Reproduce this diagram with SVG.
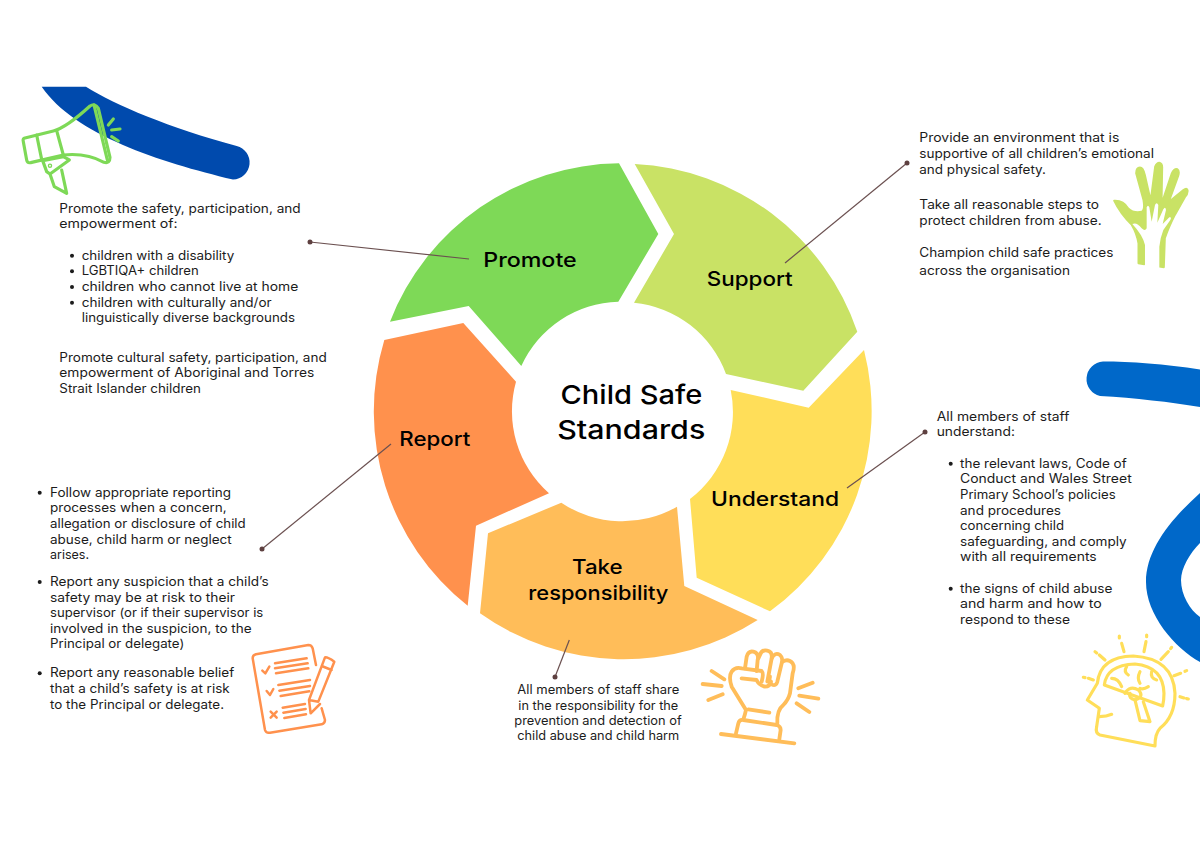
<svg xmlns="http://www.w3.org/2000/svg" width="1200" height="849" viewBox="0 0 1200 849">
<style>
text{font-family:"Inter","Liberation Sans",sans-serif;fill:#000}
.b{font-size:12.5px;fill:#1c1c1c}
.h{font-size:20px;font-weight:500}
.t{font-size:26px;font-weight:500}
.conn{stroke:#6b5050;stroke-width:1.2;fill:none}
.dot{fill:#5e4040}
.ico{fill:none;stroke-linecap:round;stroke-linejoin:round}
.bul{fill:#1c1c1c}
</style>
<rect width="1200" height="849" fill="#fff"/>
<g id="decor">
<path fill="#004aad" d="M41.7,86.7 L86,86.7 C115,105 170,128 236.7,146 A17,17 0 0 1 233,179.5 C160,162 75,135 41.7,86.7Z"/>
<path fill="#0068c9" d="M1200,369.5 C1165,364 1130,361.5 1103,361.5 A17.5,17.5 0 0 0 1100,396 C1135,398 1170,402 1200,407Z"/>
<path fill="#0068c9" d="M1200,493 C1170,520 1146,550 1146,582 C1146,615 1175,648 1200,662 L1200,617 C1190,610 1181,595 1181,580 C1181,568 1190,553 1200,543Z"/>
</g>
<g id="segment-promote">
<path fill="#7ed957" d="M619,163.3 L658.3,234 L618.3,301.7 A109.5,109.5 0 0 0 521.3,366 L468.7,306 L390,321.7 A248,248 0 0 1 619,163.3Z"/>
<text class="h" x="483.3" y="266.7" textLength="93.4" lengthAdjust="spacingAndGlyphs">Promote</text>
</g>
<g id="segment-support">
<path fill="#c9e265" d="M634.7,164 L674,234 L634,302.7 A109.5,109.5 0 0 1 726,374 L803.3,390.7 L857.3,331.7 A248,248 0 0 0 634.7,164Z"/>
<text class="h" x="706.7" y="285.7" textLength="86" lengthAdjust="spacingAndGlyphs">Support</text>
</g>
<g id="segment-understand">
<path fill="#ffde59" d="M864,350 A248,248 0 0 1 770,611.3 L696.7,577.7 L690,499 A109.5,109.5 0 0 0 730.7,390 L808.7,407.7Z"/>
<text class="h" x="711" y="505.7" textLength="128" lengthAdjust="spacingAndGlyphs">Understand</text>
</g>
<g id="segment-take">
<path fill="#ffbd59" d="M757.7,620 A248,248 0 0 1 480,613.3 L488,533.3 L561.3,502.7 A109.5,109.5 0 0 0 677,506.7 L684.3,586Z"/>
<text class="h" x="572" y="574" textLength="50.7" lengthAdjust="spacingAndGlyphs">Take</text>
<text class="h" x="528.3" y="600" textLength="140" lengthAdjust="spacingAndGlyphs">responsibility</text>
</g>
<g id="segment-report">
<path fill="#ff914d" d="M467.7,605.7 A248,248 0 0 1 384.3,340 L463.3,323 L516,381.7 A109.5,109.5 0 0 0 549,493.3 L476,525.7Z"/>
<text class="h" x="399.3" y="446" textLength="71" lengthAdjust="spacingAndGlyphs">Report</text>
</g>
<g id="center">
<text class="t" x="560.5" y="404.3" textLength="141.8" lengthAdjust="spacingAndGlyphs">Child Safe</text>
<text class="t" x="557.2" y="439" textLength="148.1" lengthAdjust="spacingAndGlyphs">Standards</text>
</g>
<g id="connectors">
<path class="conn" d="M310,242 L469,259"/><circle class="dot" cx="310" cy="242" r="2.5"/>
<path class="conn" d="M907,163 L785,263"/><circle class="dot" cx="907" cy="163" r="2.5"/>
<path class="conn" d="M925,432 L847,488"/><circle class="dot" cx="925" cy="432" r="2.5"/>
<path class="conn" d="M262,549 L391,444"/><circle class="dot" cx="262" cy="549" r="2.5"/>
<path class="conn" d="M555,677 L569.3,640"/><circle class="dot" cx="555" cy="677" r="2.5"/>
</g>
<g id="text-promote">
<text class="b" x="59.3" y="212.7" textLength="241.4" lengthAdjust="spacingAndGlyphs">Promote the safety, participation, and</text>
<text class="b" x="59.3" y="228.3" textLength="118.4" lengthAdjust="spacingAndGlyphs">empowerment of:</text>
<circle class="bul" cx="72" cy="255.7" r="2"/>
<circle class="bul" cx="72" cy="271.3" r="2"/>
<circle class="bul" cx="72" cy="287" r="2"/>
<circle class="bul" cx="72" cy="302.7" r="2"/>
<text class="b" x="81.7" y="259.7" textLength="152.6" lengthAdjust="spacingAndGlyphs">children with a disability</text>
<text class="b" x="81.7" y="275.3" textLength="117" lengthAdjust="spacingAndGlyphs">LGBTIQA+ children</text>
<text class="b" x="81.7" y="291" textLength="216.6" lengthAdjust="spacingAndGlyphs">children who cannot live at home</text>
<text class="b" x="81.7" y="306.7" textLength="190" lengthAdjust="spacingAndGlyphs">children with culturally and/or</text>
<text class="b" x="81.7" y="322.3" textLength="213.3" lengthAdjust="spacingAndGlyphs">linguistically diverse backgrounds</text>
<text class="b" x="59.3" y="361.7" textLength="267.4" lengthAdjust="spacingAndGlyphs">Promote cultural safety, participation, and</text>
<text class="b" x="59.3" y="377.3" textLength="255" lengthAdjust="spacingAndGlyphs">empowerment of Aboriginal and Torres</text>
<text class="b" x="59.3" y="393" textLength="141.7" lengthAdjust="spacingAndGlyphs">Strait Islander children</text>
</g>
<g id="text-report">
<circle class="bul" cx="39.7" cy="492.7" r="2"/>
<circle class="bul" cx="39.7" cy="582" r="2"/>
<circle class="bul" cx="39.7" cy="673.3" r="2"/>
<text class="b" x="50" y="496.7" textLength="181" lengthAdjust="spacingAndGlyphs">Follow appropriate reporting</text>
<text class="b" x="50" y="512.3" textLength="176.7" lengthAdjust="spacingAndGlyphs">processes when a concern,</text>
<text class="b" x="50" y="528" textLength="195.7" lengthAdjust="spacingAndGlyphs">allegation or disclosure of child</text>
<text class="b" x="50" y="543.7" textLength="181.7" lengthAdjust="spacingAndGlyphs">abuse, child harm or neglect</text>
<text class="b" x="50" y="559.3" textLength="39" lengthAdjust="spacingAndGlyphs">arises.</text>
<text class="b" x="50" y="586" textLength="218.7" lengthAdjust="spacingAndGlyphs">Report any suspicion that a child’s</text>
<text class="b" x="50" y="601.7" textLength="185" lengthAdjust="spacingAndGlyphs">safety may be at risk to their</text>
<text class="b" x="50" y="617.3" textLength="213.3" lengthAdjust="spacingAndGlyphs">supervisor (or if their supervisor is</text>
<text class="b" x="50" y="633" textLength="201.7" lengthAdjust="spacingAndGlyphs">involved in the suspicion, to the</text>
<text class="b" x="50" y="648.3" textLength="134.3" lengthAdjust="spacingAndGlyphs">Principal or delegate)</text>
<text class="b" x="50" y="677.3" textLength="184.3" lengthAdjust="spacingAndGlyphs">Report any reasonable belief</text>
<text class="b" x="50" y="693" textLength="179.7" lengthAdjust="spacingAndGlyphs">that a child’s safety is at risk</text>
<text class="b" x="50" y="708.7" textLength="174" lengthAdjust="spacingAndGlyphs">to the Principal or delegate.</text>
</g>
<g id="text-support">
<text class="b" x="919.3" y="142.3" textLength="200" lengthAdjust="spacingAndGlyphs">Provide an environment that is</text>
<text class="b" x="919.3" y="158" textLength="234.7" lengthAdjust="spacingAndGlyphs">supportive of all children’s emotional</text>
<text class="b" x="919.3" y="173.7" textLength="126.7" lengthAdjust="spacingAndGlyphs">and physical safety.</text>
<text class="b" x="919.3" y="209.3" textLength="179.7" lengthAdjust="spacingAndGlyphs">Take all reasonable steps to</text>
<text class="b" x="919.3" y="225" textLength="182.4" lengthAdjust="spacingAndGlyphs">protect children from abuse.</text>
<text class="b" x="919.3" y="256.7" textLength="194" lengthAdjust="spacingAndGlyphs">Champion child safe practices</text>
<text class="b" x="919.3" y="274.7" textLength="150.7" lengthAdjust="spacingAndGlyphs">across the organisation</text>
</g>
<g id="text-understand">
<text class="b" x="936.7" y="420.7" textLength="132.6" lengthAdjust="spacingAndGlyphs">All members of staff</text>
<text class="b" x="936.7" y="436.3" textLength="78.3" lengthAdjust="spacingAndGlyphs">understand:</text>
<circle class="bul" cx="950.7" cy="463.7" r="2"/>
<circle class="bul" cx="950.7" cy="588.7" r="2"/>
<text class="b" x="960" y="467.7" textLength="166.7" lengthAdjust="spacingAndGlyphs">the relevant laws, Code of</text>
<text class="b" x="960" y="483.3" textLength="171.7" lengthAdjust="spacingAndGlyphs">Conduct and Wales Street</text>
<text class="b" x="960" y="499" textLength="155.7" lengthAdjust="spacingAndGlyphs">Primary School’s policies</text>
<text class="b" x="960" y="514.7" textLength="101" lengthAdjust="spacingAndGlyphs">and procedures</text>
<text class="b" x="960" y="530.3" textLength="104" lengthAdjust="spacingAndGlyphs">concerning child</text>
<text class="b" x="960" y="546" textLength="166.7" lengthAdjust="spacingAndGlyphs">safeguarding, and comply</text>
<text class="b" x="960" y="561.3" textLength="136.7" lengthAdjust="spacingAndGlyphs">with all requirements</text>
<text class="b" x="960" y="592.7" textLength="152.3" lengthAdjust="spacingAndGlyphs">the signs of child abuse</text>
<text class="b" x="960" y="608.3" textLength="141.7" lengthAdjust="spacingAndGlyphs">and harm and how to</text>
<text class="b" x="960" y="624" textLength="110" lengthAdjust="spacingAndGlyphs">respond to these</text>
</g>
<g id="text-take">
<text class="b" x="517.3" y="694" textLength="162" lengthAdjust="spacingAndGlyphs">All members of staff share</text>
<text class="b" x="518.3" y="709.5" textLength="160" lengthAdjust="spacingAndGlyphs">in the responsibility for the</text>
<text class="b" x="514.3" y="724.8" textLength="167.4" lengthAdjust="spacingAndGlyphs">prevention and detection of</text>
<text class="b" x="517.3" y="740" textLength="162" lengthAdjust="spacingAndGlyphs">child abuse and child harm</text>
</g>
<g id="icon-megaphone" class="ico" stroke="#7ed957" stroke-width="9.5" transform="translate(0,70) scale(.3333)">
<path d="M72,205 L160,183 C190,175 235,140 270,108 Q285,98 295,115 L330,262 Q330,282 312,277 C285,262 240,250 190,255 L92,278 Q82,280 80,270 L70,215 Q68,207 72,205Z"/>
<path d="M110,195 L125,268 M170,182 L190,255 M282,105 L322,270"/>
<path d="M128,272 L190,260 L208,270 L150,312 L140,305Z M150,312 L163,350 L200,370 L185,300"/>
<path d="M325,165 L340,147 M335,180 L360,177 M335,200 L355,213"/>
<circle cx="150" cy="287" r="2"/>
</g>
<g id="icon-hand" transform="translate(1100,150) scale(.3333)">
<path fill="#c9e265" stroke="#c9e265" stroke-width="5" stroke-linejoin="round" d="M42,152 Q70,150 85,175 Q100,190 125,185 Q135,180 130,150 L108,70 Q108,52 120,52 Q130,52 135,75 L152,150 L165,50 Q170,38 178,38 Q188,40 187,55 L185,160 L215,70 Q222,55 232,57 Q240,62 235,78 L207,155 L250,120 Q260,112 263,120 Q265,130 255,142 L225,195 Q205,235 195,265 L192,352 L178,350 L178,285 L135,285 L133,343 L115,340 L115,280 Q110,250 95,225 Q60,190 42,152Z"/>
<path fill="#fff" d="M97,222 Q110,215 125,235 Q135,245 140,235 L140,172 Q144,162 148,172 L155,215 L165,165 Q170,155 175,165 L172,218 L190,178 Q196,168 198,180 L188,222 L208,202 Q216,200 211,210 L190,240 Q180,265 178,290 L178,360 L135,360 L135,285 Q128,255 97,222Z"/>
</g>
<g id="icon-checklist" class="ico" stroke="#ff914d" stroke-width="7.5" transform="translate(240,630) scale(.3333)">
<path d="M228,105 L218,55 Q215,45 205,45 L48,73 Q38,75 38,85 L75,300 Q78,310 90,308 L245,283 Q255,280 255,270 L245,235"/>
<path d="M255,82 Q262,80 283,95 L235,215 L207,210Z M207,210 L212,250 L240,222 M245,108 L275,120"/>
<path d="M105,100 L200,85 M105,115 L203,100 M108,130 L205,115 M115,165 L210,150 M118,182 L210,168 M122,198 L208,184 M128,233 L195,222 M130,248 L197,237 M133,264 L198,253"/>
<path d="M67,122 L76,130 L88,110 M80,183 L90,195 L100,177 M92,245 L110,263 M110,245 L92,263"/>
</g>
<g id="icon-fist" class="ico" stroke="#ffbd59" stroke-width="11.5" transform="translate(690,640) scale(.3333)">
<path d="M65,93 L103,118 M38,132 L95,138 M55,180 L98,163 M325,145 L368,128 M328,167 L385,176 M320,190 L358,216 M93,282 L313,310"/>
<path d="M138,280 L145,250 Q148,238 160,240 L260,255 Q272,258 272,270 L268,298"/>
<path d="M160,238 Q165,225 168,210 L125,140 Q115,110 125,95 Q135,80 155,85 L215,93 Q222,100 215,125"/>
<path d="M165,85 L170,50 Q175,32 190,35 Q208,40 203,60 L200,93 M203,60 L210,45 Q215,28 232,32 Q248,35 245,55 L232,125"/>
<path d="M245,55 Q255,35 270,45 Q280,55 275,70 L262,125 Q258,140 245,133 Q235,128 240,110"/>
<path d="M278,65 Q295,55 308,70 Q315,80 308,100 L300,160 Q295,180 280,195 Q260,210 262,250"/>
<path d="M155,115 L200,120 Q205,135 225,140 Q240,140 243,125 M175,208 L238,218"/>
</g>
<g id="icon-brain" class="ico" stroke="#ffde59" stroke-width="9.5" transform="translate(1060,350) scale(.3333)">
<path d="M285,1188 L120,1155 Q105,1150 110,1130 L118,1075 L82,1050 L112,1000 Q120,920 220,918 Q340,925 345,1030 Q345,1100 300,1135 Q285,1150 285,1188Z"/>
<path d="M118,1100 Q140,1100 155,1093"/>
<path d="M133,1005 Q140,945 225,942 Q310,950 312,1030 Q312,1050 308,1068 L133,1005Z"/>
<path d="M225,1050 L240,1112 L270,1115 L250,1055"/>
<path d="M200,950 Q190,965 205,975 M155,985 Q175,985 185,1010 M240,965 Q230,985 240,1000 M275,965 Q270,985 290,990 M265,1010 Q250,1020 240,1015 M195,1030 Q210,1005 235,1020 Q255,1040 225,1050 Q205,1045 210,1030"/>
<path d="M178,858 L178,864 M185,880 L192,905 M260,855 L260,860 M258,875 L252,905 M335,892 L332,896 M325,905 L303,928 M105,905 L110,909 M118,915 L135,930 M70,982 L75,983 M85,985 L100,990 M380,962 L375,964 M362,970 L342,977 M385,1047 L380,1046 M372,1044 L360,1040"/>
</g>
</svg>
